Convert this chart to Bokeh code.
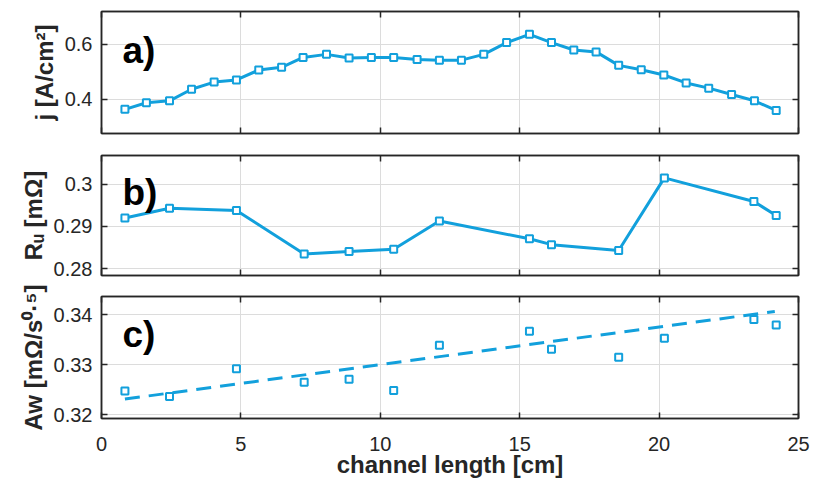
from bokeh.plotting import figure
from bokeh.layouts import column
from bokeh.models import Range1d, FixedTicker, LinearAxis, Label
from bokeh.embed import file_html
from bokeh.resources import INLINE

# ---- data ----
x_j = [0.84, 1.61, 2.44, 3.23, 4.04, 4.84, 5.64, 6.46, 7.23, 8.07,
       8.88, 9.68, 10.48, 11.32, 12.12, 12.91, 13.71, 14.53, 15.35, 16.14,
       16.94, 17.74, 18.55, 19.36, 20.17, 20.97, 21.78, 22.60, 23.42, 24.20]
j_vals = [0.364, 0.388, 0.395, 0.437, 0.463, 0.471, 0.507, 0.517, 0.553, 0.564,
          0.551, 0.553, 0.553, 0.545, 0.543, 0.543, 0.564, 0.607, 0.637, 0.607,
          0.580, 0.573, 0.524, 0.508, 0.489, 0.460, 0.441, 0.418, 0.395, 0.360]

x_ru = [0.84, 2.44, 4.84, 7.27, 8.88, 10.48, 12.12, 15.35, 16.14, 18.55, 20.19, 23.40, 24.20]
ru_vals = [0.2920, 0.2943, 0.2938, 0.2835, 0.2841, 0.2846, 0.2913, 0.2871, 0.2857,
           0.2843, 0.3015, 0.2959, 0.2926]

x_aw = [0.84, 2.44, 4.84, 7.27, 8.88, 10.48, 12.12, 15.35, 16.14, 18.55, 20.19, 23.40, 24.20]
aw_vals = [0.3247, 0.3236, 0.3292, 0.3265, 0.3271, 0.3248, 0.3339, 0.3367, 0.3331,
           0.3315, 0.3353, 0.3391, 0.3380]

fit_x = [0.84, 24.15]
fit_y = [0.3231, 0.3407]

x_ticks = [0, 5, 10, 15, 20, 25]
j_ticks = [0.4, 0.6]
j_tick_labels = ["0.4", "0.6"]
ru_ticks = [0.28, 0.29, 0.3]
ru_tick_labels = ["0.28", "0.29", "0.3"]
aw_ticks = [0.32, 0.33, 0.34]
aw_tick_labels = ["0.32", "0.33", "0.34"]

panel_labels = ["a)", "b)", "c)"]

# ---- styling ----
BLUE = "#12A0DC"
DARK = "#262626"
FONT = "Liberation Sans"
TICK_FS = "20px"
LABEL_FS = "24px"


def style_axis(ax, show_labels):
    ax.major_tick_in = 6
    ax.major_tick_out = 0
    ax.minor_tick_line_color = None
    ax.axis_line_color = DARK
    ax.axis_line_width = 1.5
    ax.major_tick_line_color = DARK
    ax.major_tick_line_width = 1.5
    ax.major_label_text_font = FONT
    if show_labels:
        ax.major_label_text_font_size = TICK_FS
        ax.major_label_text_color = DARK
    else:
        ax.major_label_text_font_size = "1px"
        ax.major_label_text_color = None
        ax.major_label_standoff = 0
        ax.axis_label_standoff = 0


def make_fig(height, yr, yticks, ylabels, ylabel, top, bottom, show_x, plabel, plabel_y):
    p = figure(width=810, height=height, output_backend="svg", toolbar_location=None,
               x_range=Range1d(0, 25), y_range=Range1d(*yr),
               min_border_left=101, min_border_right=12,
               min_border_top=top, min_border_bottom=bottom,
               outline_line_color=DARK, outline_line_width=1.5,
               background_fill_color="white", border_fill_color="white")
    p.xaxis.ticker = FixedTicker(ticks=x_ticks)
    p.yaxis.ticker = FixedTicker(ticks=yticks)
    p.yaxis.major_label_overrides = {t: l for t, l in zip(yticks, ylabels)}
    style_axis(p.xaxis[0], show_x)
    style_axis(p.yaxis[0], True)
    p.yaxis.major_label_standoff = 9
    p.yaxis.axis_label = ylabel
    p.yaxis.axis_label_text_font = FONT
    p.yaxis.axis_label_text_font_style = "bold"
    p.yaxis.axis_label_text_font_size = LABEL_FS
    p.yaxis.axis_label_text_color = DARK
    p.yaxis.axis_label_standoff = 4
    if show_x:
        p.xaxis.major_label_standoff = 18
        p.xaxis.axis_label = "channel length [cm]"
        p.xaxis.axis_label_text_font = FONT
        p.xaxis.axis_label_text_font_style = "bold"
        p.xaxis.axis_label_text_font_size = LABEL_FS
        p.xaxis.axis_label_text_color = DARK
        p.xaxis.axis_label_standoff = -3

    # box ticks on top and right
    top_ax = LinearAxis(ticker=FixedTicker(ticks=x_ticks))
    style_axis(top_ax, False)
    p.add_layout(top_ax, "above")
    right_ax = LinearAxis(ticker=FixedTicker(ticks=yticks))
    style_axis(right_ax, False)
    p.add_layout(right_ax, "right")

    p.grid.grid_line_color = "#dcdcdc"
    p.grid.grid_line_width = 1

    p.add_layout(Label(x=0.75, y=plabel_y, text=plabel, text_font=FONT,
                       text_font_style="bold", text_font_size="37px",
                       text_color="black", text_baseline="alphabetic"))
    return p


pa = make_fig(144, (0.276, 0.72), j_ticks, j_tick_labels, "j [A/cm²]", 11, 11, False,
              panel_labels[0], 0.579)
pa.line(x_j, j_vals, line_color=BLUE, line_width=3)
pa.scatter(x_j, j_vals, marker="square", size=7, line_color=BLUE, line_width=2,
           fill_color="white")

pb = make_fig(141, (0.2784, 0.3068), ru_ticks, ru_tick_labels, "Rᵤ [mΩ]", 11, 10, False,
              panel_labels[1], 0.2981)
pb.line(x_ru, ru_vals, line_color=BLUE, line_width=3)
pb.scatter(x_ru, ru_vals, marker="square", size=7, line_color=BLUE, line_width=2,
           fill_color="white")

pc = make_fig(197, (0.3192, 0.3437), aw_ticks, aw_tick_labels, "Aw [mΩ/s⁰·⁵]", 11, 64, True,
              panel_labels[2], 0.336)
pc.line(fit_x, fit_y, line_color=BLUE, line_width=3, line_dash="15 9")
pc.scatter(x_aw, aw_vals, marker="square", size=7, line_color=BLUE, line_width=2,
           fill_color=None)

layout = column(pa, pb, pc, spacing=0)
open("out.html", "w").write(file_html(layout, INLINE))
